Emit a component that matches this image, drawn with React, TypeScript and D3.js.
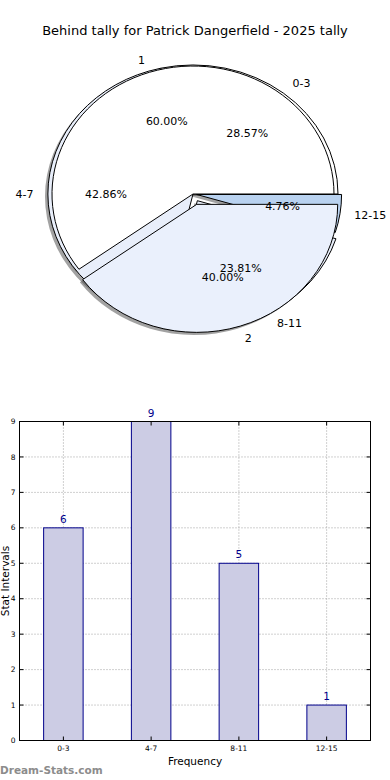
import React from "react";
import * as d3 from "d3";

const title = "Behind tally for Patrick Dangerfield - 2025 tally";

// top pie (drawn over the other one)
const topLabels = ["1", "2"];
const topValues = [60, 40];
const topColors = ["#ffffff", "#eaf0fc"];
const topExplode = [0, 0.085];

// pie underneath, one slice per interval
const baseLabels = ["0-3", "4-7", "8-11", "12-15"];
const baseValues = [6, 9, 5, 1];
const baseColors = ["#ffffff", "#e8eefa", "#e8eefa", "#b9d2f0"];
const baseExplode = [0, 0, 0.06, 0.025];

// bar chart
const barCategories = ["0-3", "4-7", "8-11", "12-15"];
const barValues = [6, 9, 5, 1];
const yTicks = [0, 1, 2, 3, 4, 5, 6, 7, 8, 9];

const W = 390;
const H = 780;
const FONT = "'DejaVu Sans', sans-serif";

const CX = 193;
const CY = 194;
const TOP_R = { rx: 141, ry: 128 };
const BASE_R = { rx: 145, ry: 129 };

const pieGen = d3
  .pie<number>()
  .sort(null)
  .value((d) => d)
  .startAngle(Math.PI / 2)
  .endAngle(Math.PI / 2 - 2 * Math.PI);

const unitArc = d3
  .arc<d3.PieArcDatum<number>>()
  .innerRadius(0)
  .outerRadius(1);

const pct = d3.format(".2f");

function layoutPie(
  values: number[],
  explode: number[],
  rx: number,
  ry: number
) {
  const total = d3.sum(values);
  return pieGen(values).map((a, i) => {
    const mid = (a.startAngle + a.endAngle) / 2;
    const ux = Math.sin(mid);
    const uy = -Math.cos(mid);
    const ox = explode[i] * rx * ux;
    const oy = explode[i] * ry * uy;
    return {
      path: unitArc(a) as string,
      tx: CX + ox,
      ty: CY + oy,
      lx: CX + ox + 1.1 * rx * ux,
      ly: CY + oy + 1.1 * ry * uy,
      px: CX + ox + 0.6 * rx * ux,
      py: CY + oy + 0.6 * ry * uy,
      anchor: ux >= 0 ? "start" : "end",
      text: pct((values[i] / total) * 100) + "%",
    };
  });
}

const PieChart: React.FC = () => {
  const base = layoutPie(baseValues, baseExplode, BASE_R.rx, BASE_R.ry);
  const top = layoutPie(topValues, topExplode, TOP_R.rx, TOP_R.ry);

  const shadow = (w: any, r: { rx: number; ry: number }, key: string) => (
    <path
      key={key}
      d={w.path}
      transform={`translate(${w.tx - 0.02 * r.rx},${w.ty + 0.02 * r.ry}) scale(${r.rx},${r.ry})`}
      fill="#555"
      opacity={0.55}
    />
  );

  const wedge = (
    w: any,
    r: { rx: number; ry: number },
    color: string,
    key: string
  ) => (
    <path
      key={key}
      d={w.path}
      transform={`translate(${w.tx},${w.ty}) scale(${r.rx},${r.ry})`}
      fill={color}
      stroke="#000"
      strokeWidth={1}
      vectorEffect="non-scaling-stroke"
    />
  );

  return (
    <g>
      {base.map((w, i) => shadow(w, BASE_R, "bs" + i))}
      {top.map((w, i) => shadow(w, TOP_R, "ts" + i))}
      {base.map((w, i) => wedge(w, BASE_R, baseColors[i], "bw" + i))}
      {top.map((w, i) => wedge(w, TOP_R, topColors[i], "tw" + i))}
      <g fontFamily={FONT} fontSize={11} fill="#000">
        {base.map((w, i) => (
          <text key={"bl" + i} x={w.lx} y={w.ly} dy="0.35em" textAnchor={w.anchor}>
            {baseLabels[i]}
          </text>
        ))}
        {base.map((w, i) => (
          <text key={"bp" + i} x={w.px} y={w.py} dy="0.35em" textAnchor="middle">
            {w.text}
          </text>
        ))}
        {top.map((w, i) => (
          <text key={"tl" + i} x={w.lx} y={w.ly} dy="0.35em" textAnchor={w.anchor}>
            {topLabels[i]}
          </text>
        ))}
        {top.map((w, i) => (
          <text key={"tp" + i} x={w.px} y={w.py} dy="0.35em" textAnchor="middle">
            {w.text}
          </text>
        ))}
      </g>
    </g>
  );
};

const BarChart: React.FC = () => {
  const left = 19.5;
  const right = 370.5;
  const plotTop = 421.5;
  const bottom = 740.5;

  const x = d3
    .scaleBand()
    .domain(barCategories)
    .range([left, right])
    .paddingInner(0.55)
    .paddingOuter(0.275);
  const y = d3.scaleLinear().domain([0, 9]).range([bottom, plotTop]);
  const bw = x.bandwidth();
  const cx = (c: string) => (x(c) as number) + bw / 2;

  return (
    <g fontFamily={FONT}>
      {/* grid */}
      {yTicks.map((t) => (
        <line
          key={"gy" + t}
          x1={left}
          x2={right}
          y1={y(t)}
          y2={y(t)}
          stroke="#a0a0a0"
          strokeDasharray="1,2"
        />
      ))}
      {barCategories.map((c) => (
        <line
          key={"gx" + c}
          x1={cx(c)}
          x2={cx(c)}
          y1={plotTop}
          y2={bottom}
          stroke="#a0a0a0"
          strokeDasharray="1,2"
        />
      ))}

      {barCategories.map((c, i) => (
        <rect
          key={"b" + c}
          x={x(c)}
          y={y(barValues[i])}
          width={bw}
          height={bottom - y(barValues[i])}
          fill="#ccccE4"
          stroke="#00008b"
          strokeWidth={1}
        />
      ))}

      {barCategories.map((c, i) => (
        <text
          key={"v" + c}
          x={cx(c)}
          y={y(barValues[i]) - 5}
          textAnchor="middle"
          fontSize={10.5}
          fill="#00008b"
        >
          {barValues[i]}
        </text>
      ))}

      <rect
        x={left}
        y={plotTop}
        width={right - left}
        height={bottom - plotTop}
        fill="none"
        stroke="#000"
        strokeWidth={1}
      />

      {/* inward ticks */}
      {yTicks.map((t) => (
        <g key={"ty" + t}>
          <line x1={left} x2={left + 4} y1={y(t)} y2={y(t)} stroke="#000" />
          <line x1={right} x2={right - 4} y1={y(t)} y2={y(t)} stroke="#000" />
          <text
            x={left - 4}
            y={y(t)}
            dy="0.35em"
            textAnchor="end"
            fontSize={7.5}
            fill="#000"
          >
            {t}
          </text>
        </g>
      ))}
      {barCategories.map((c) => (
        <g key={"tx" + c}>
          <line x1={cx(c)} x2={cx(c)} y1={bottom} y2={bottom - 4} stroke="#000" />
          <line x1={cx(c)} x2={cx(c)} y1={plotTop} y2={plotTop + 4} stroke="#000" />
          <text x={cx(c)} y={751} textAnchor="middle" fontSize={7.5} fill="#000">
            {c}
          </text>
        </g>
      ))}

      <text x={(left + right) / 2} y={764.5} textAnchor="middle" fontSize={10.5} fill="#000">
        Frequency
      </text>
      <text
        transform={`translate(8.5,${(plotTop + bottom) / 2}) rotate(-90)`}
        textAnchor="middle"
        fontSize={10.5}
        fill="#000"
      >
        Stat Intervals
      </text>
    </g>
  );
};

export default function App() {
  return (
    <div style={{ position: "absolute", left: 0, top: 0 }}>
      <svg width={W} height={H} style={{ display: "block", background: "#fff" }}>
        <rect width={W} height={H} fill="#fff" />
        <text
          x={W / 2}
          y={35}
          textAnchor="middle"
          fontFamily={FONT}
          fontSize={13}
          fill="#000"
        >
          {title}
        </text>
        <PieChart />
        <BarChart />
        <text
          x={0}
          y={774}
          fontFamily={FONT}
          fontSize={10.5}
          fontWeight="bold"
          fill="#8c8c8c"
        >
          Dream-Stats.com
        </text>
      </svg>
    </div>
  );
}
